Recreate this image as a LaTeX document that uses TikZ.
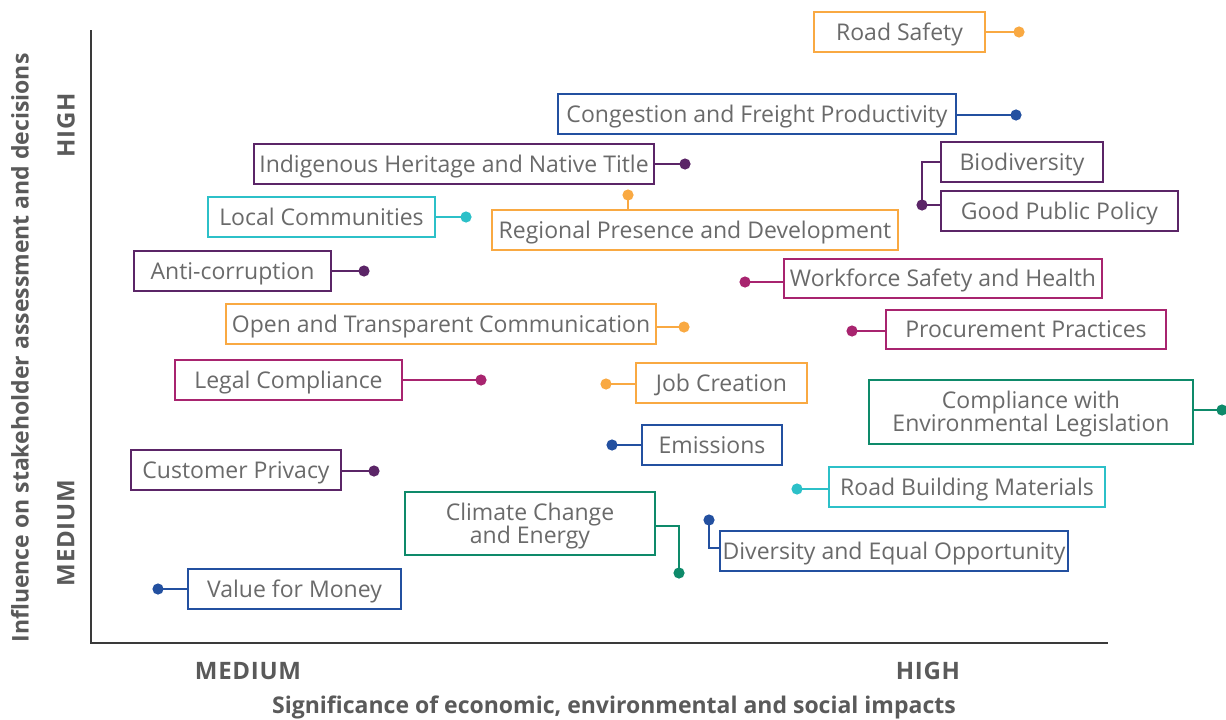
\documentclass[tikz,border=0pt]{standalone}
\usepackage{fontspec}
\setmainfont{Open Sans}
\definecolor{cor}{HTML}{F9A942}
\definecolor{cbl}{HTML}{2350A0}
\definecolor{cpu}{HTML}{5B2567}
\definecolor{cte}{HTML}{2CC0C8}
\definecolor{cma}{HTML}{A8246F}
\definecolor{cgr}{HTML}{0E8A6A}
\definecolor{ctx}{HTML}{6A6A6A}
\definecolor{cax}{HTML}{3A3A3A}
\definecolor{cal}{HTML}{5A5A5A}
\begin{document}
\begin{tikzpicture}[x=1pt,y=-1pt,
  lbox/.style={draw=#1, line width=2.8pt, fill=white, text=ctx, font=\fontsize{23}{23}\selectfont, inner sep=0pt, align=center, text height=16.4pt, text depth=0pt},
  twoline/.style={text height=39.4pt, text depth=0pt},
  conn/.style={draw=#1, line width=2.6pt},
  axlab/.style={text=cal, font=\bfseries\fontsize{24}{26}\selectfont\addfontfeature{LetterSpace=3}},
  axtitle/.style={text=cal, font=\bfseries\fontsize{23}{26}\selectfont}]
\useasboundingbox (0,0) rectangle (1226,720);
% axes
\coordinate (ytop) at (91,30);
\coordinate (orig) at (91,643);
\coordinate (xend) at (1108,643);
\draw[cax, line width=2.5pt] (ytop) -- (orig) -- (xend);
\node[axlab, rotate=90] (yhigh) at (66,125) {HIGH};
\node[axlab, rotate=90] (ymed) at (66,533) {MEDIUM};
\node[axtitle, rotate=90] (ytitle) at (20,348) {Influence on stakeholder assessment and decisions};
\node[axlab] (xmed) at (248,671) {MEDIUM};
\node[axlab] (xhigh) at (928,671) {HIGH};
\node[axtitle] (xtitle) at (614,707) {Significance of economic, environmental and social impacts};
% helper macros
\newcommand{\itembox}[8][]{% opts, name, color, x1, y1, x2, y2, text
  \node[lbox=#3, #1, minimum width={#6-#4}, minimum height={#7-#5}] (#2) at ({(#4+#6)/2},{(#5+#7)/2}) {#8};}
\newcommand{\itemdot}[3]{% name color (x,y)
  \coordinate (#1) at #3; \fill[#2] (#1) circle (5.6);}
% Road Safety
\itembox{rs}{cor}{814}{12}{985}{52}{Road Safety}
\itemdot{drs}{cor}{(1019,32)}
\draw[conn=cor] (drs -| rs.east) -- (drs);
% Congestion
\itembox{cf}{cbl}{558}{94}{956}{134}{Congestion and Freight Productivity}
\itemdot{dcf}{cbl}{(1016,115)}
\draw[conn=cbl] (dcf -| cf.east) -- (dcf);
% Indigenous
\itembox{ih}{cpu}{254}{144}{654}{184}{Indigenous Heritage and Native Title}
\itemdot{dih}{cpu}{(685,164)}
\draw[conn=cpu] (dih -| ih.east) -- (dih);
% Biodiversity and Good Public Policy
\itembox{bd}{cpu}{941}{142}{1103}{182}{Biodiversity}
\itembox{gp}{cpu}{941}{191}{1178}{231}{Good Public Policy}
\itemdot{dbd}{cpu}{(922,205)}
\draw[conn=cpu] (bd.west) -| (dbd);
\draw[conn=cpu] (dbd) -- (dbd -| gp.west);
% Local Communities
\itembox{lc}{cte}{208}{197}{435}{237}{Local Communities}
\itemdot{dlc}{cte}{(466,217)}
\draw[conn=cte] (dlc -| lc.east) -- (dlc);
% Regional Presence
\itembox{rp}{cor}{492}{210}{898}{250}{Regional Presence and Development}
\itemdot{drp}{cor}{(628,195)}
\draw[conn=cor] (drp) -- (drp |- rp.north);
% Anti-corruption
\itembox{ac}{cpu}{134}{251}{331}{291}{Anti-corruption}
\itemdot{dac}{cpu}{(364,271)}
\draw[conn=cpu] (dac -| ac.east) -- (dac);
% Workforce
\itembox{ws}{cma}{784}{259}{1102}{298}{Workforce Safety and Health}
\itemdot{dws}{cma}{(745,282)}
\draw[conn=cma] (dws) -- (dws -| ws.west);
% Open and Transparent
\itembox{ot}{cor}{226}{304}{656}{344}{Open and Transparent Communication}
\itemdot{dot}{cor}{(684,327)}
\draw[conn=cor] (dot -| ot.east) -- (dot);
% Procurement
\itembox{pp}{cma}{886}{310}{1166}{349}{Procurement Practices}
\itemdot{dpp}{cma}{(852,331)}
\draw[conn=cma] (dpp) -- (dpp -| pp.west);
% Legal Compliance
\itembox{lg}{cma}{175}{360}{402}{400}{Legal Compliance}
\itemdot{dlg}{cma}{(481,380)}
\draw[conn=cma] (dlg -| lg.east) -- (dlg);
% Job Creation
\itembox{jc}{cor}{636}{363}{807}{403}{Job Creation}
\itemdot{djc}{cor}{(606,384)}
\draw[conn=cor] (djc) -- (djc -| jc.west);
% Compliance with Env
\itembox[twoline]{ce}{cgr}{869}{380}{1193}{444}{Compliance with\\Environmental Legislation}
\itemdot{dce}{cgr}{(1222,410)}
\draw[conn=cgr] (dce -| ce.east) -- (dce);
% Emissions
\itembox{em}{cbl}{642}{425}{782}{465}{Emissions}
\itemdot{dem}{cbl}{(612,445)}
\draw[conn=cbl] (dem) -- (dem -| em.west);
% Customer Privacy
\itembox{cp}{cpu}{131}{450}{341}{490}{Customer Privacy}
\itemdot{dcp}{cpu}{(374,471)}
\draw[conn=cpu] (dcp -| cp.east) -- (dcp);
% Road Building Materials
\itembox{rb}{cte}{829}{467}{1105}{507}{Road Building Materials}
\itemdot{drb}{cte}{(797,489)}
\draw[conn=cte] (drb) -- (drb -| rb.west);
% Climate Change
\itembox[twoline]{cc}{cgr}{405}{492}{655}{555}{Climate Change\\and Energy}
\itemdot{dcc}{cgr}{(679,573)}
\coordinate (ccj) at (655,526);
\draw[conn=cgr] (ccj) -| (dcc);
% Diversity
\itembox{de}{cbl}{720}{531}{1068}{571}{Diversity and Equal Opportunity}
\itemdot{dde}{cbl}{(709,520)}
\coordinate (dej) at (720,548);
\draw[conn=cbl] (dde) |- (dej);
% Value for Money
\itembox{vm}{cbl}{188}{569}{401}{609}{Value for Money}
\itemdot{dvm}{cbl}{(158,589)}
\draw[conn=cbl] (dvm) -- (dvm -| vm.west);
\end{tikzpicture}
\end{document}
